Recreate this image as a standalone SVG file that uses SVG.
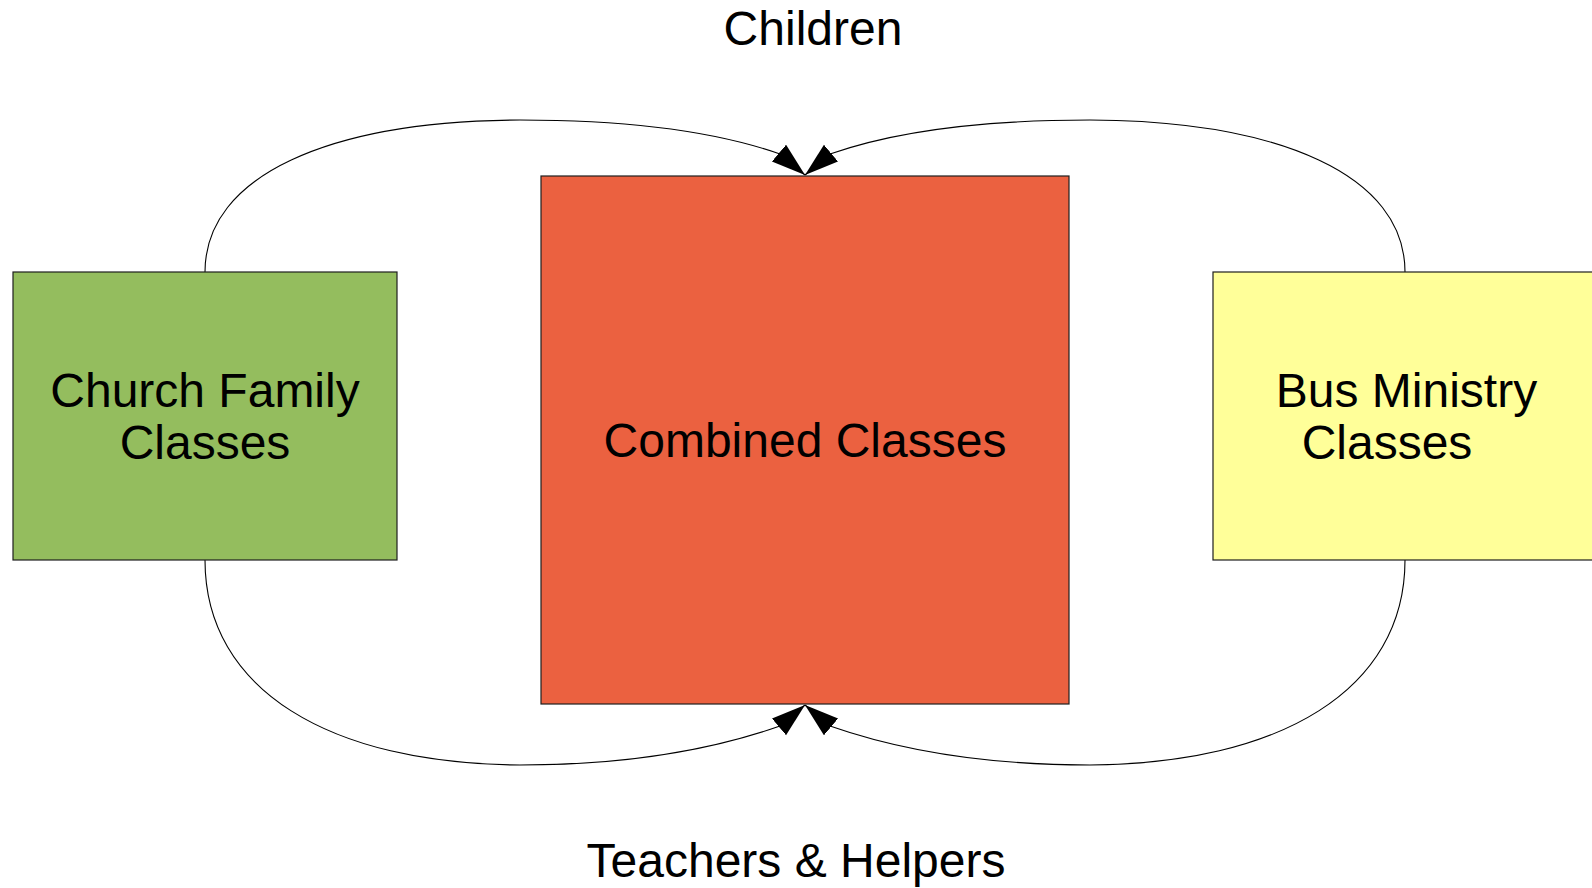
<svg xmlns="http://www.w3.org/2000/svg" width="1592" height="888" viewBox="0 0 1592 888">
<style>
.lbl{font-family:"Liberation Sans",Arial,sans-serif;font-size:48px;fill:#000;text-anchor:middle}
.box{stroke:#1e1e1e;stroke-width:1.2}
.conn{fill:none;stroke:#000;stroke-width:1.1}
</style>
<defs>
<marker id="arr" markerUnits="userSpaceOnUse" markerWidth="36" markerHeight="24" refX="34" refY="11" orient="auto">
<path d="M0,0 L34,11 L0,22 z" fill="#000"/>
</marker>
</defs>
<rect width="1592" height="888" fill="#fff"/>
<g id="connectors">
<path class="conn" marker-end="url(#arr)" d="M205,272 C205,175 330,121 520,120 C640,120 720,133 780,154 L805,175"/>
<path class="conn" marker-end="url(#arr)" d="M1405,272 C1405,175 1280,121 1090,120 C970,120 890,133 830,154 L805,175"/>
<path class="conn" marker-end="url(#arr)" d="M205,560 C205,690 330,764 520,765 C640,765 720,747 780,726 L805,705"/>
<path class="conn" marker-end="url(#arr)" d="M1405,560 C1405,690 1280,764 1090,765 C970,765 890,747 830,726 L805,705"/>
</g>
<g id="church-family">
<rect class="box" x="13" y="272" width="384" height="288" fill="#94bd5e"/>
<text class="lbl" x="205" y="407">Church Family</text>
<text class="lbl" x="205" y="459">Classes</text>
</g>
<g id="combined">
<rect class="box" x="541" y="176" width="528" height="528" fill="#eb6140"/>
<text class="lbl" x="805" y="457">Combined Classes</text>
</g>
<g id="bus-ministry">
<rect class="box" x="1213" y="272" width="384" height="288" fill="#ffff99"/>
<text class="lbl" x="1406.5" y="407">Bus Ministry</text>
<text class="lbl" x="1387" y="459">Classes</text>
</g>
<g id="children-label">
<text class="lbl" x="813" y="45">Children</text>
</g>
<g id="teachers-label">
<text class="lbl" x="796" y="877">Teachers &amp; Helpers</text>
</g>
</svg>
